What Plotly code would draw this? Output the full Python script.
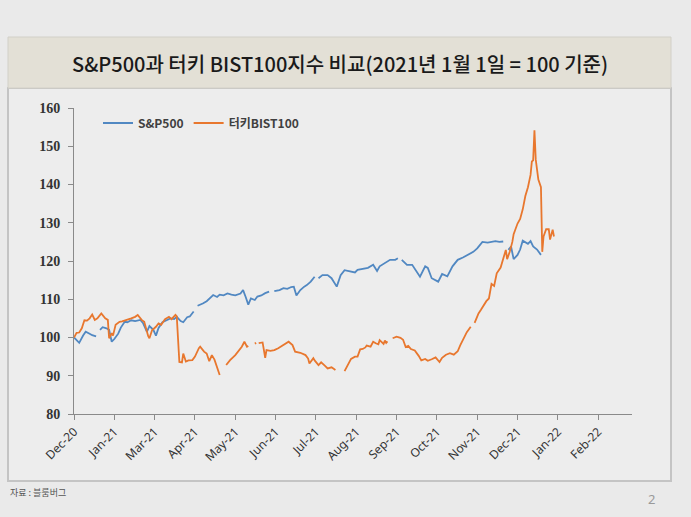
import plotly.graph_objects as go
import pandas as pd

# ---- data (days counted from 2020-12-31, values: 2021-01-01 = 100) ----
BASE_DATE = "2020-12-31"

sp_day = [0, 2, 4, 7, 9, 12, 14, 17, 18, 20,
          22, 25, 27, 29, 31, 34, 36, 39, 41, 44,
          47, 51, 53, 56, 58, 61, 63, 65, 68, 70,
          74, 77, 79, 82, 84, 87, 89, 92, 93, 95,
          97, 99, 102, 104, 107, 110, 112, 115, 118, 121,
          124, 128, 130, 132, 134, 136, 139, 141, 144, 147,
          150, 151, 154, 158, 161, 164, 167, 169, 171, 174,
          177, 179, 182, 185, 186, 188, 191, 195, 198, 202,
          205, 208, 212, 216, 218, 222, 226, 230, 233, 235,
          239, 243, 247, 249, 250, 252, 256, 260, 264, 266,
          270, 272, 275, 278, 280, 283, 287, 291, 295, 299,
          303, 307, 310, 314, 318, 321, 324, 327, 330, 331,
          334, 336, 338, 341, 343, 345, 349, 351, 353, 356,
          359]
sp_val = [100.0, 99.3, 98.6, 100.5, 101.5, 101.0, 100.6, 100.3, None, 102.0,
          102.7, 102.4, 102.0, 98.9, 99.6, 101.0, 102.6, 104.1, 104.0, 104.5,
          104.3, 104.6, 103.8, 101.5, 103.0, 102.0, 100.5, 102.5, 104.0, 104.3,
          105.0, 104.8, 105.4, 104.3, 104.0, 105.3, 105.5, 106.8, None, 108.3,
          108.5, 108.9, 109.5, 110.2, 111.1, 110.6, 111.2, 111.0, 111.5, 111.2,
          111.0, 111.5, 112.4, 110.6, 108.6, 110.2, 109.8, 110.7, 111.0, 111.6,
          112.0, None, 112.1, 112.4, 112.9, 112.7, 113.2, 113.3, 111.0, 112.4,
          113.3, 113.7, 114.6, 115.9, None, 115.5, 116.3, 116.3, 115.5, 113.3,
          116.3, 117.6, 117.2, 117.0, 117.7, 118.0, 118.2, 119.0, 117.4, 118.6,
          119.4, 120.3, 120.3, 120.7, None, 120.3, 119.0, 119.0, 116.8, 115.9,
          118.6, 118.2, 115.5, 115.0, 114.6, 116.6, 116.0, 118.6, 120.3, 120.9,
          121.6, 122.4, 123.3, 125.0, 124.8, 125.0, 125.2, 125.0, 125.1, None,
          122.9, 123.8, 120.5, 121.6, 123.0, 125.3, 124.5, 125.2, 123.8, 123.0,
          121.6]

bist_day = [0, 2, 4, 6, 8, 10, 12, 14, 16, 18,
            21, 24, 26, 27, 29, 30, 32, 35, 37, 41,
            44, 47, 49, 52, 54, 57, 58, 60, 63, 65,
            67, 70, 73, 75, 78, 79, 81, 83, 84, 86,
            88, 91, 93, 96, 97, 100, 102, 104, 106, 108,
            110, 112, 114, 117, 120, 124, 127, 129, 131, 133,
            134, 136, 139, 140, 141, 142, 144, 145, 147, 148,
            151, 154, 157, 161, 165, 168, 170, 174, 178, 180,
            181, 184, 185, 188, 190, 193, 195, 198, 201, 203,
            208, 211, 213, 216, 218, 220, 222, 224, 225, 228,
            230, 232, 234, 235, 238, 239, 240, 241, 243, 245,
            248, 251, 253, 255, 257, 259, 262, 265, 267, 270,
            272, 275, 278, 281, 283, 286, 289, 292, 295, 297,
            300, 302, 305, 306, 308, 311, 313, 315, 317, 319,
            321, 323, 325, 328, 330, 332, 333, 335, 337, 338,
            341, 343, 345, 347, 349, 351, 352, 353, 354, 355,
            357, 359, 360, 361, 363, 365, 366, 368, 369]
bist_val = [100.0, 101.2, 101.3, 102.4, 104.5, 104.4, 105.0, 106.0, 104.6, 105.0,
            106.3, 105.0, 104.6, 99.8, 101.1, 100.5, 103.3, 104.1, 104.2, 104.6,
            105.0, 105.4, 105.9, 104.6, 104.1, 100.4, 99.8, 101.9, 102.8, 103.7,
            103.3, 104.8, 105.4, 104.8, 105.9, 105.5, 93.6, 93.5, 95.8, 93.7,
            94.0, 94.1, 95.0, 97.2, 97.6, 96.3, 95.8, 93.8, 95.4, 94.2,
            92.0, 90.2, None, 92.8, 94.1, 95.4, 96.7, 97.6, 98.9, 97.6,
            97.8, None, 98.4, 98.6, None, 98.5, 98.6, 98.7, 94.7, 96.7,
            96.5, 96.7, 97.2, 98.0, 98.9, 98.0, 96.3, 96.0, 95.4, 94.5,
            93.2, 94.6, 94.0, 92.8, 93.5, 92.6, 91.9, 92.2, 91.5, None,
            91.2, 93.2, 94.4, 95.0, 95.0, 96.9, 97.0, 97.4, 97.9, 97.6,
            98.9, 98.5, 98.2, 99.3, 98.3, 99.2, 98.6, 99.0, None, 99.8,
            100.2, 99.9, 99.4, 97.5, 97.8, 97.0, 96.6, 95.2, 94.0, 94.4,
            93.9, 94.3, 94.8, 93.6, 94.7, 95.5, 95.9, 95.5, 96.4, 98.0,
            100.2, 101.4, 102.8, None, 103.8, 106.3, 107.3, 108.5, 109.5, 110.2,
            114.0, 113.5, 116.8, 118.3, 120.3, 122.9, 120.5, 122.4, 125.0, 127.0,
            129.8, 131.0, 133.5, 137.0, 139.3, 142.5, 146.0, 146.3, 154.2, 146.5,
            141.3, 139.3, 122.4, 126.4, 128.3, 128.3, 125.6, 128.2, 126.4]

tick_dates = ["2020-12-31", "2021-01-31", "2021-03-03", "2021-04-03", "2021-05-04",
              "2021-06-04", "2021-07-05", "2021-08-05", "2021-09-05", "2021-10-06",
              "2021-11-06", "2021-12-07", "2022-01-07", "2022-02-07"]
tick_labels = ["Dec-20", "Jan-21", "Mar-21", "Apr-21", "May-21", "Jun-21", "Jul-21",
               "Aug-21", "Sep-21", "Oct-21", "Nov-21", "Dec-21", "Jan-22", "Feb-22"]
y_ticks = [80, 90, 100, 110, 120, 130, 140, 150, 160]

series_names = ["S&P500", "터키BIST100"]
title_text = "S&P500과 터키 BIST100지수 비교(2021년 1월 1일 = 100 기준)"
source_text = "자료 : 블룸버그"
page_no = "2"

base = pd.Timestamp(BASE_DATE)
sp_x = [base + pd.Timedelta(days=d) for d in sp_day]
bist_x = [base + pd.Timedelta(days=d) for d in bist_day]

BLUE = "#5188c2"
ORANGE = "#e8772e"

fig = go.Figure()
fig.add_trace(go.Scatter(x=sp_x, y=sp_val, mode="lines", name=series_names[0],
                         line=dict(color=BLUE, width=1.8), connectgaps=False))
fig.add_trace(go.Scatter(x=bist_x, y=bist_val, mode="lines", name=series_names[1],
                         line=dict(color=ORANGE, width=1.8), connectgaps=False))

W, H = 691, 517
L, R, T, B = 74, 59, 108, 103
pw, ph = W - L - R, H - T - B


def px(x):
    return (x - L) / pw


def py(y):
    return (H - B - y) / ph


shapes = [
    # chart frame
    dict(type="rect", xref="paper", yref="paper", x0=px(8), x1=px(671), y0=py(481), y1=py(88),
         fillcolor="#ededed", line=dict(color="#c4c4c4", width=2), layer="below"),
    # title box
    dict(type="rect", xref="paper", yref="paper", x0=px(8), x1=px(671), y0=py(88), y1=py(37),
         fillcolor="#e3e0d6", line=dict(color="#d2d0c8", width=1), layer="below"),
]

annotations = [
    dict(text=title_text, xref="paper", yref="paper", x=px(340), y=py(63),
         xanchor="center", yanchor="middle", showarrow=False,
         font=dict(family="Noto Sans CJK KR", size=20, color="#1a1a1a", weight=500)),
    dict(text=source_text, xref="paper", yref="paper", x=px(8), y=py(492),
         xanchor="left", yanchor="middle", showarrow=False,
         font=dict(family="Noto Sans CJK KR", size=9, color="#555555")),
    dict(text=page_no, xref="paper", yref="paper", x=px(652), y=py(499),
         xanchor="center", yanchor="middle", showarrow=False,
         font=dict(family="Noto Sans", size=13, color="#9a9a9a")),
]

fig.update_layout(
    width=W, height=H,
    margin=dict(l=L, r=R, t=T, b=B, pad=0),
    paper_bgcolor="#eaeaea",
    plot_bgcolor="rgba(0,0,0,0)",
    shapes=shapes,
    annotations=annotations,
    showlegend=True,
    legend=dict(orientation="h", x=px(98), y=py(123), xanchor="left", yanchor="middle",
                bgcolor="rgba(0,0,0,0)", font=dict(family="Noto Sans CJK KR", size=12,
                                                   color="#404040", weight="bold"),
                itemwidth=30, tracegroupgap=0),
    xaxis=dict(type="date", range=["2020-12-31", "2022-03-05"],
               tickmode="array", tickvals=tick_dates, ticktext=tick_labels,
               tickangle=-45, ticks="outside", ticklen=5, tickcolor="#8a8a8a",
               showline=True, linecolor="#8a8a8a", linewidth=1, showgrid=False,
               zeroline=False,
               tickfont=dict(family="Noto Sans", size=12, color="#333333")),
    yaxis=dict(range=[80, 160], tickmode="array", tickvals=y_ticks,
               ticks="outside", ticklen=5, tickcolor="#8a8a8a",
               showline=True, linecolor="#8a8a8a", linewidth=1, showgrid=False,
               zeroline=False, ticklabelstandoff=5,
               tickfont=dict(family="Liberation Serif", size=14, color="#333333",
                             weight="bold")),
)

fig.write_html("out.html")
